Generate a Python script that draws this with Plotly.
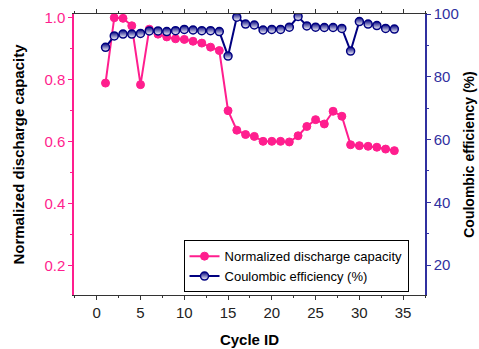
import plotly.graph_objects as go

cycles = list(range(1, 35))
capacity = [0.789, 1.0, 0.998, 0.974, 0.784, 0.963, 0.947, 0.938, 0.932, 0.930,
            0.924, 0.918, 0.905, 0.894, 0.700, 0.637, 0.623, 0.617, 0.601, 0.601,
            0.601, 0.599, 0.619, 0.649, 0.671, 0.657, 0.698, 0.682, 0.590, 0.587,
            0.585, 0.582, 0.576, 0.571]
efficiency = [89.4, 93.0, 93.6, 93.6, 93.8, 94.6, 94.6, 94.4, 94.7, 95.1,
              94.9, 94.7, 94.7, 94.4, 86.6, 99.0, 96.8, 96.5, 94.9, 95.1,
              95.1, 95.8, 99.2, 96.2, 95.8, 95.7, 95.7, 95.4, 88.2, 97.6,
              96.8, 96.3, 95.4, 95.2]

PINK = "#FF1E8E"
NAVY = "#000080"
RIGHTC = "#3030A0"
FONT = "Liberation Sans"

fig = go.Figure()
fig.add_trace(go.Scatter(
    x=cycles, y=capacity, mode="lines+markers", name="Normalized discharge capacity",
    line=dict(color=PINK, width=2),
    marker=dict(symbol="circle", size=8, color=PINK, line=dict(color=PINK, width=1)),
))
fig.add_trace(go.Scatter(
    x=cycles, y=efficiency, mode="lines+markers", name="Coulombic efficiency (%)",
    yaxis="y2",
    line=dict(color=NAVY, width=2),
    marker=dict(symbol="circle", size=8, color=NAVY,
                gradient=dict(type="vertical", color="white"),
                line=dict(color=NAVY, width=1.5)),
))

fig.update_layout(
    width=479, height=349,
    margin=dict(l=74, r=54, t=14, b=54),
    paper_bgcolor="white", plot_bgcolor="white",
    font=dict(family=FONT, size=15, color="black"),
    showlegend=True,
    legend=dict(x=0.312, y=0.195, xanchor="left", yanchor="top",
                bordercolor="black", borderwidth=1, bgcolor="white",
                font=dict(family=FONT, size=13, color="black"),
                tracegroupgap=0, itemwidth=30),
    xaxis=dict(range=[-2.6, 37.5], tickvals=[0, 5, 10, 15, 20, 25, 30, 35],
               automargin=False,
               ticks="outside", ticklen=4, tickwidth=1, tickcolor="#333",
               showline=True, linecolor="#333", linewidth=1, mirror="ticks",
               showgrid=False, zeroline=False,
               minor=dict(tickvals=[-2.5, 2.5, 7.5, 12.5, 17.5, 22.5, 27.5, 32.5, 37.5],
                          ticks="outside", ticklen=2, tickcolor="#333"),
               tickfont=dict(size=15, color="#222"),
               title=dict(text="<b>Cycle ID</b>", font=dict(size=15, color="black"), standoff=14)),
    yaxis=dict(range=[0.105, 1.012], tickvals=[0.2, 0.4, 0.6, 0.8, 1.0],
               ticktext=["0.2", "0.4", "0.6", "0.8", "1.0"],
               automargin=False,
               ticks="outside", ticklen=4, tickwidth=1, tickcolor=PINK,
               showline=True, linecolor=PINK, linewidth=1.5,
               showgrid=False, zeroline=False,
               minor=dict(tickvals=[0.3, 0.5, 0.7, 0.9], ticks="outside", ticklen=2, tickcolor=PINK),
               tickfont=dict(size=15, color=PINK),
               title=dict(text="<b>Normalized discharge capacity</b>",
                          font=dict(size=15, color="black"), standoff=16)),
    yaxis2=dict(range=[10.5, 100], tickvals=[20, 40, 60, 80, 100], overlaying="y", side="right",
                automargin=False,
                ticks="outside", ticklen=4, tickwidth=1, tickcolor=RIGHTC,
                showline=True, linecolor=RIGHTC, linewidth=1.5,
                showgrid=False, zeroline=False,
                minor=dict(tickvals=[30, 50, 70, 90], ticks="outside", ticklen=2, tickcolor=RIGHTC),
                tickfont=dict(size=15, color=RIGHTC),
                title=dict(text="<b>Coulombic efficiency (%)</b>",
                           font=dict(size=14, color="black"), standoff=6)),
)

fig.write_html("out.html")
